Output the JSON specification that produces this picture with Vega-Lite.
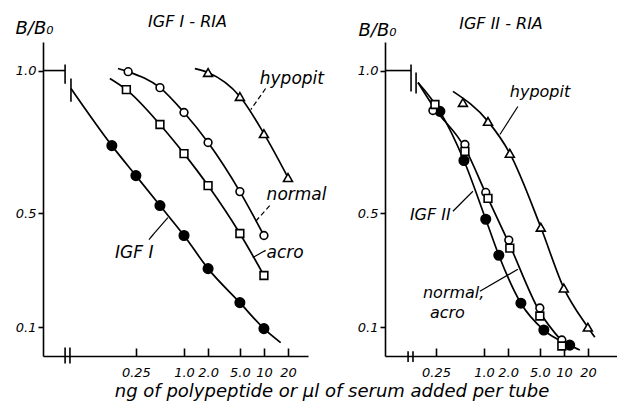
{
  "$schema": "https://vega.github.io/schema/vega-lite/v6.json",
  "background": "white",
  "padding": {"left": 15, "top": 14, "right": 0, "bottom": 0},
  "title": {"text": "ng of polypeptide or µl of serum added per tube", "orient": "bottom", "anchor": "middle", "font": "DejaVu Sans", "fontStyle": "italic", "fontSize": 18, "fontWeight": "normal", "color": "black", "dx": 16, "offset": 4},
  "datasets": {
    "curves": [
      {"panel": "I", "series": "IGF", "x": 0.0385, "y": 0.937},
      {"panel": "I", "series": "IGF", "x": 0.125, "y": 0.737},
      {"panel": "I", "series": "IGF", "x": 0.25, "y": 0.632},
      {"panel": "I", "series": "IGF", "x": 0.5, "y": 0.527},
      {"panel": "I", "series": "IGF", "x": 1, "y": 0.422},
      {"panel": "I", "series": "IGF", "x": 2, "y": 0.306},
      {"panel": "I", "series": "IGF", "x": 5, "y": 0.187},
      {"panel": "I", "series": "IGF", "x": 10, "y": 0.096},
      {"panel": "I", "series": "IGF", "x": 16.2, "y": 0.047},
      {"panel": "I", "series": "normal", "x": 0.149, "y": 1.007},
      {"panel": "I", "series": "normal", "x": 0.2, "y": 0.996},
      {"panel": "I", "series": "normal", "x": 0.5, "y": 0.94},
      {"panel": "I", "series": "normal", "x": 1, "y": 0.853},
      {"panel": "I", "series": "normal", "x": 2, "y": 0.748},
      {"panel": "I", "series": "normal", "x": 5, "y": 0.576},
      {"panel": "I", "series": "normal", "x": 10, "y": 0.422},
      {"panel": "I", "series": "acro", "x": 0.118, "y": 0.972},
      {"panel": "I", "series": "acro", "x": 0.19, "y": 0.933},
      {"panel": "I", "series": "acro", "x": 0.5, "y": 0.811},
      {"panel": "I", "series": "acro", "x": 1, "y": 0.709},
      {"panel": "I", "series": "acro", "x": 2, "y": 0.597},
      {"panel": "I", "series": "acro", "x": 5, "y": 0.429},
      {"panel": "I", "series": "acro", "x": 10, "y": 0.282},
      {"panel": "I", "series": "hypopit", "x": 1.37, "y": 1.007},
      {"panel": "I", "series": "hypopit", "x": 2, "y": 0.993},
      {"panel": "I", "series": "hypopit", "x": 5, "y": 0.909},
      {"panel": "I", "series": "hypopit", "x": 10, "y": 0.779},
      {"panel": "I", "series": "hypopit", "x": 20, "y": 0.625},
      {"panel": "II", "series": "IGF", "x": 0.149, "y": 0.958},
      {"panel": "II", "series": "IGF", "x": 0.28, "y": 0.857},
      {"panel": "II", "series": "IGF", "x": 0.56, "y": 0.685},
      {"panel": "II", "series": "IGF", "x": 1.05, "y": 0.479},
      {"panel": "II", "series": "IGF", "x": 1.53, "y": 0.353},
      {"panel": "II", "series": "IGF", "x": 2.89, "y": 0.185},
      {"panel": "II", "series": "IGF", "x": 5.6, "y": 0.091},
      {"panel": "II", "series": "IGF", "x": 11.8, "y": 0.038},
      {"panel": "II", "series": "IGF", "x": 15.8, "y": 0.021},
      {"panel": "II", "series": "normal", "x": 0.149, "y": 0.958},
      {"panel": "II", "series": "normal", "x": 0.237, "y": 0.87},
      {"panel": "II", "series": "normal", "x": 0.576, "y": 0.729},
      {"panel": "II", "series": "normal", "x": 1.08, "y": 0.562},
      {"panel": "II", "series": "normal", "x": 2.07, "y": 0.392},
      {"panel": "II", "series": "normal", "x": 4.99, "y": 0.154},
      {"panel": "II", "series": "normal", "x": 9.4, "y": 0.052},
      {"panel": "II", "series": "hypopit", "x": 0.408, "y": 0.927},
      {"panel": "II", "series": "hypopit", "x": 1.12, "y": 0.822},
      {"panel": "II", "series": "hypopit", "x": 2.1, "y": 0.71},
      {"panel": "II", "series": "hypopit", "x": 5.13, "y": 0.451},
      {"panel": "II", "series": "hypopit", "x": 9.95, "y": 0.238},
      {"panel": "II", "series": "hypopit", "x": 19.9, "y": 0.101},
      {"panel": "II", "series": "hypopit", "x": 24.3, "y": 0.066}
    ],
    "points": [
      {"panel": "I", "series": "IGF", "x": 0.125, "y": 0.737},
      {"panel": "I", "series": "IGF", "x": 0.25, "y": 0.632},
      {"panel": "I", "series": "IGF", "x": 0.5, "y": 0.527},
      {"panel": "I", "series": "IGF", "x": 1, "y": 0.422},
      {"panel": "I", "series": "IGF", "x": 2, "y": 0.306},
      {"panel": "I", "series": "IGF", "x": 5, "y": 0.187},
      {"panel": "I", "series": "IGF", "x": 10, "y": 0.096},
      {"panel": "I", "series": "normal", "x": 0.2, "y": 0.996},
      {"panel": "I", "series": "normal", "x": 0.5, "y": 0.94},
      {"panel": "I", "series": "normal", "x": 1, "y": 0.853},
      {"panel": "I", "series": "normal", "x": 2, "y": 0.748},
      {"panel": "I", "series": "normal", "x": 5, "y": 0.576},
      {"panel": "I", "series": "normal", "x": 10, "y": 0.422},
      {"panel": "I", "series": "acro", "x": 0.19, "y": 0.933},
      {"panel": "I", "series": "acro", "x": 0.5, "y": 0.811},
      {"panel": "I", "series": "acro", "x": 1, "y": 0.709},
      {"panel": "I", "series": "acro", "x": 2, "y": 0.597},
      {"panel": "I", "series": "acro", "x": 5, "y": 0.429},
      {"panel": "I", "series": "acro", "x": 10, "y": 0.282},
      {"panel": "I", "series": "hypopit", "x": 2, "y": 0.993},
      {"panel": "I", "series": "hypopit", "x": 5, "y": 0.909},
      {"panel": "I", "series": "hypopit", "x": 10, "y": 0.779},
      {"panel": "I", "series": "hypopit", "x": 20, "y": 0.625},
      {"panel": "II", "series": "IGF", "x": 0.28, "y": 0.857},
      {"panel": "II", "series": "IGF", "x": 0.56, "y": 0.685},
      {"panel": "II", "series": "IGF", "x": 1.05, "y": 0.479},
      {"panel": "II", "series": "IGF", "x": 1.53, "y": 0.353},
      {"panel": "II", "series": "IGF", "x": 2.89, "y": 0.185},
      {"panel": "II", "series": "IGF", "x": 5.6, "y": 0.091},
      {"panel": "II", "series": "IGF", "x": 11.8, "y": 0.038},
      {"panel": "II", "series": "normal", "x": 0.229, "y": 0.86},
      {"panel": "II", "series": "normal", "x": 0.576, "y": 0.741},
      {"panel": "II", "series": "normal", "x": 1.05, "y": 0.573},
      {"panel": "II", "series": "normal", "x": 2.04, "y": 0.406},
      {"panel": "II", "series": "normal", "x": 4.99, "y": 0.168},
      {"panel": "II", "series": "normal", "x": 9.4, "y": 0.056},
      {"panel": "II", "series": "acro", "x": 0.243, "y": 0.881},
      {"panel": "II", "series": "acro", "x": 0.576, "y": 0.717},
      {"panel": "II", "series": "acro", "x": 1.12, "y": 0.552},
      {"panel": "II", "series": "acro", "x": 2.1, "y": 0.378},
      {"panel": "II", "series": "acro", "x": 4.99, "y": 0.14},
      {"panel": "II", "series": "acro", "x": 9.4, "y": 0.035},
      {"panel": "II", "series": "hypopit", "x": 0.544, "y": 0.888},
      {"panel": "II", "series": "hypopit", "x": 1.12, "y": 0.822},
      {"panel": "II", "series": "hypopit", "x": 2.1, "y": 0.71},
      {"panel": "II", "series": "hypopit", "x": 5.13, "y": 0.451},
      {"panel": "II", "series": "hypopit", "x": 9.95, "y": 0.238},
      {"panel": "II", "series": "hypopit", "x": 19.9, "y": 0.101}
    ],
    "breaks": [
      {"panel": "I", "x": 0.0172, "y": 1.0, "x2": 0.0325, "y2": 1.0},
      {"panel": "I", "x": 0.0325, "y": 1.021, "x2": 0.0325, "y2": 0.954},
      {"panel": "I", "x": 0.0385, "y": 0.972, "x2": 0.0385, "y2": 0.891},
      {"panel": "I", "x": 0.0325, "y": 0.03, "x2": 0.0325, "y2": -0.026},
      {"panel": "I", "x": 0.0374, "y": 0.03, "x2": 0.0374, "y2": -0.026},
      {"panel": "II", "x": 0.0576, "y": 1.0, "x2": 0.122, "y2": 1.0},
      {"panel": "II", "x": 0.122, "y": 1.021, "x2": 0.122, "y2": 0.927},
      {"panel": "II", "x": 0.141, "y": 0.993, "x2": 0.141, "y2": 0.92},
      {"panel": "II", "x": 0.112, "y": 0.017, "x2": 0.112, "y2": -0.021},
      {"panel": "II", "x": 0.129, "y": 0.017, "x2": 0.129, "y2": -0.021}
    ],
    "leaders": [
      {"panel": "I", "x": 10.5, "y": 0.937, "x2": 6.85, "y2": 0.863, "dash": true},
      {"panel": "I", "x": 11.8, "y": 0.527, "x2": 7.66, "y2": 0.468, "dash": true},
      {"panel": "I", "x": 10.5, "y": 0.37, "x2": 7.25, "y2": 0.345, "dash": false},
      {"panel": "I", "x": 0.364, "y": 0.408, "x2": 0.628, "y2": 0.485, "dash": false},
      {"panel": "II", "x": 2.65, "y": 0.874, "x2": 1.58, "y2": 0.776, "dash": false},
      {"panel": "II", "x": 0.408, "y": 0.507, "x2": 0.725, "y2": 0.577, "dash": false},
      {"panel": "II", "x": 0.887, "y": 0.227, "x2": 2.65, "y2": 0.304, "dash": false}
    ],
    "labels": [
      {"panel": "I", "text": "hypopit", "x": 8.87, "y": 0.954},
      {"panel": "I", "text": "normal", "x": 10.8, "y": 0.545},
      {"panel": "I", "text": "acro", "x": 10.8, "y": 0.345},
      {"panel": "I", "text": "IGF I", "x": 0.137, "y": 0.345},
      {"panel": "II", "text": "hypopit", "x": 2.1, "y": 0.906},
      {"panel": "II", "text": "IGF II", "x": 0.118, "y": 0.476},
      {"panel": "II", "text": "normal,", "x": 0.172, "y": 0.203},
      {"panel": "II", "text": "acro", "x": 0.21, "y": 0.132}
    ]
  },
  "spacing": 77,
  "bounds": "flush",
  "hconcat": [
    {
      "width": 265,
      "height": 314,
      "title": {"text": "IGF  I  -  RIA", "anchor": "middle", "frame": "group", "dx": 12, "offset": -11},
      "encoding": {
        "x": {"field": "x", "type": "quantitative", "scale": {"type": "log", "domain": [0.0172, 35.6], "nice": false},
          "axis": {"values": [0.25, 1, 2, 5, 10, 20], "labelExpr": "datum.value == 0.25 ? '0.25' : datum.value < 10 ? format(datum.value, '.1f') : format(datum.value, 'd')", "title": null, "tickSize": -8, "labelPadding": 18, "labelFlush": false, "labelOverlap": false}},
        "y": {"field": "y", "type": "quantitative", "scale": {"domain": [0, 1.1], "nice": false, "zero": false},
          "axis": {"values": [0.1, 0.5, 1.0], "format": ".1f", "tickSize": 5, "labelPadding": 2, "title": "B/B₀", "titleAngle": 0, "titleAlign": "left", "titleBaseline": "alphabetic", "titleX": -28, "titleY": -9}}
      },
      "layer": [
        {"data": {"name": "curves"}, "transform": [{"filter": "datum.panel == 'I'"}], "mark": {"type": "line", "interpolate": "monotone", "color": "black", "strokeWidth": 1.7}, "encoding": {"detail": {"field": "series"}}},
        {"data": {"name": "breaks"}, "transform": [{"filter": "datum.panel == 'I'"}], "mark": {"type": "rule", "color": "black", "strokeWidth": 1.6}, "encoding": {"x2": {"field": "x2"}, "y2": {"field": "y2"}}},
        {"data": {"name": "leaders"}, "transform": [{"filter": "datum.panel == 'I'"}], "mark": {"type": "rule", "color": "black", "strokeWidth": 1.2}, "encoding": {"x2": {"field": "x2"}, "y2": {"field": "y2"}, "strokeDash": {"condition": {"test": "datum.dash", "value": [5, 3]}, "value": [1, 0]}}},
        {"data": {"name": "points"}, "transform": [{"filter": "datum.panel == 'I'"}], "mark": {"type": "point", "filled": true, "opacity": 1, "strokeWidth": 1.6, "stroke": "black"},
          "encoding": {
            "shape": {"field": "series", "scale": {"domain": ["IGF", "normal", "acro", "hypopit"], "range": ["circle", "circle", "square", "triangle-up"]}, "legend": null},
            "fill": {"field": "series", "scale": {"domain": ["IGF", "normal", "acro", "hypopit"], "range": ["black", "white", "white", "white"]}, "legend": null},
            "size": {"field": "series", "scale": {"type": "ordinal", "domain": ["IGF", "normal", "acro", "hypopit"], "range": [90, 60, 60, 80]}, "legend": null}
          }},
        {"data": {"name": "labels"}, "transform": [{"filter": "datum.panel == 'I'"}], "mark": {"type": "text", "align": "left", "baseline": "alphabetic", "font": "DejaVu Sans", "fontStyle": "italic", "fontSize": 17, "color": "black"}, "encoding": {"text": {"field": "text"}}}
      ]
    },
    {
      "width": 232,
      "height": 314,
      "title": {"text": "IGF  II  -  RIA", "anchor": "middle", "frame": "group", "dx": 0, "offset": -11},
      "encoding": {
        "x": {"field": "x", "type": "quantitative", "scale": {"type": "log", "domain": [0.0576, 46.1], "nice": false},
          "axis": {"values": [0.25, 1, 2, 5, 10, 20], "labelExpr": "datum.value == 0.25 ? '0.25' : datum.value < 10 ? format(datum.value, '.1f') : format(datum.value, 'd')", "title": null, "tickSize": -8, "labelPadding": 18, "labelFlush": false, "labelOverlap": false}},
        "y": {"field": "y", "type": "quantitative", "scale": {"domain": [0, 1.1], "nice": false, "zero": false},
          "axis": {"values": [0.1, 0.5, 1.0], "format": ".1f", "tickSize": 5, "labelPadding": 2, "title": "B/B₀", "titleAngle": 0, "titleAlign": "left", "titleBaseline": "alphabetic", "titleX": -27, "titleY": -7}}
      },
      "layer": [
        {"data": {"name": "curves"}, "transform": [{"filter": "datum.panel == 'II'"}], "mark": {"type": "line", "interpolate": "monotone", "color": "black", "strokeWidth": 1.7}, "encoding": {"detail": {"field": "series"}}},
        {"data": {"name": "breaks"}, "transform": [{"filter": "datum.panel == 'II'"}], "mark": {"type": "rule", "color": "black", "strokeWidth": 1.6}, "encoding": {"x2": {"field": "x2"}, "y2": {"field": "y2"}}},
        {"data": {"name": "leaders"}, "transform": [{"filter": "datum.panel == 'II'"}], "mark": {"type": "rule", "color": "black", "strokeWidth": 1.2}, "encoding": {"x2": {"field": "x2"}, "y2": {"field": "y2"}}},
        {"data": {"name": "points"}, "transform": [{"filter": "datum.panel == 'II'"}], "mark": {"type": "point", "filled": true, "opacity": 1, "strokeWidth": 1.6, "stroke": "black"},
          "encoding": {
            "shape": {"field": "series", "scale": {"domain": ["IGF", "normal", "acro", "hypopit"], "range": ["circle", "circle", "square", "triangle-up"]}, "legend": null},
            "fill": {"field": "series", "scale": {"domain": ["IGF", "normal", "acro", "hypopit"], "range": ["black", "white", "white", "white"]}, "legend": null},
            "size": {"field": "series", "scale": {"type": "ordinal", "domain": ["IGF", "normal", "acro", "hypopit"], "range": [90, 60, 60, 80]}, "legend": null}
          }},
        {"data": {"name": "labels"}, "transform": [{"filter": "datum.panel == 'II'"}], "mark": {"type": "text", "align": "left", "baseline": "alphabetic", "font": "DejaVu Sans", "fontStyle": "italic", "fontSize": 16, "color": "black"}, "encoding": {"text": {"field": "text"}}}
      ]
    }
  ],
  "resolve": {"scale": {"shape": "independent", "fill": "independent", "size": "independent"}},
  "config": {
    "view": {"stroke": null},
    "axis": {"grid": false, "domainColor": "black", "tickColor": "black", "labelColor": "black", "titleColor": "black", "labelFont": "DejaVu Sans", "labelFontStyle": "italic", "labelFontSize": 13, "titleFont": "DejaVu Sans", "titleFontStyle": "italic", "titleFontWeight": "normal", "titleFontSize": 18, "domainWidth": 1.6, "tickWidth": 1.6},
    "title": {"font": "DejaVu Sans", "fontStyle": "italic", "fontWeight": "normal", "fontSize": 16, "color": "black"}
  }
}
